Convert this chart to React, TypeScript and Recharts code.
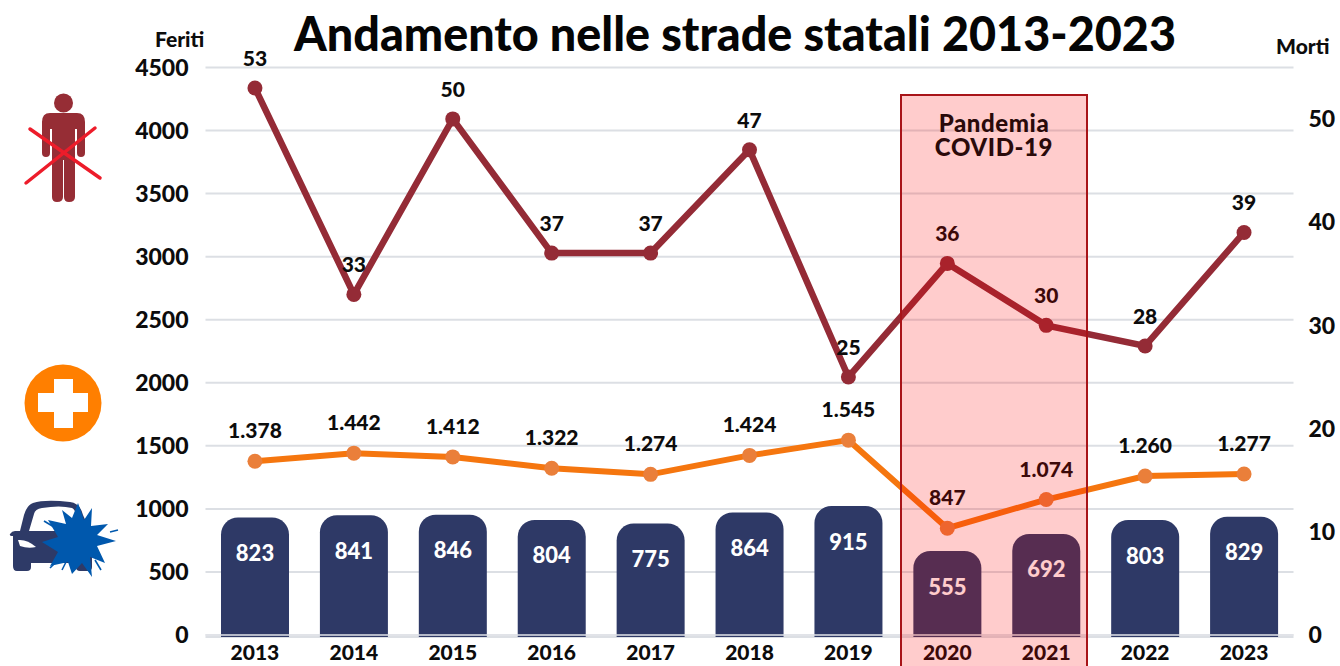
import React from "react";
import { ComposedChart, Bar, Line, XAxis, YAxis, CartesianGrid, LabelList, ReferenceLine } from "recharts";

const years = ["2013","2014","2015","2016","2017","2018","2019","2020","2021","2022","2023"];
const incidenti = [823,841,846,804,775,864,915,555,692,803,829];
const feriti = [1378,1442,1412,1322,1274,1424,1545,847,1074,1260,1277];
const morti = [53,33,50,37,37,47,25,36,30,28,39];
const feritiTicks = [0,500,1000,1500,2000,2500,3000,3500,4000,4500];
const mortiTicks = [0,10,20,30,40,50];
// the reference's bars do not start at zero on their own scale
const barFloor = -133;

const data = years.map((year, i) => ({
  year,
  incidenti: incidenti[i],
  range: [barFloor, incidenti[i]],
  feriti: feriti[i],
  morti: morti[i],
}));

const FONT = "Lato, sans-serif";
const fmt = (v: any) => String(v).replace(/\B(?=(\d{3})+$)/g, ".");

const tickStyle = { fontFamily: FONT, fontWeight: 900, fontSize: 23, fill: "#0c0c0c" };

const star = "78,503 84,520 92,508 91,526 108,524 97,535 116,541 97,546 105,563 90,557 92,577 82,563 72,574 68,562 50,566 58,552 42,542 58,537 48,520 66,524 62,510 72,518";

function Icons() {
  return (
    <svg width={1340} height={666} style={{ position: "absolute", left: 0, top: 0, pointerEvents: "none" }}>
      <g fill="#962d35">
        <circle cx={63.5} cy={103} r={9.5} />
        <path d="M50 113H77Q85 113 85 122V153Q85 157 81 157Q77 157 77 153V129H75V197Q75 202 69 202Q64 202 64 197V160H63V197Q63 202 57 202Q52 202 52 197V129H50V153Q50 157 46 157Q42 157 42 153V122Q42 113 50 113Z" />
      </g>
      <g stroke="#ed1c2a" strokeWidth={3.5} strokeLinecap="round">
        <path d="M26 183L95 128" />
        <path d="M30 129L100 178" />
      </g>
      <circle cx={63} cy={403} r={38.5} fill="#ff7f00" />
      <path d="M54 379H73V393H88V412H73V428H54V412H38V393H54Z" fill="#fff" />
      <g fill="#2e3a67">
        <path d="M15 531Q12 531 10 534Q9 536 13 536V566Q13 571 17 571H27Q31 571 31 567V563H76V567Q76 571 80 571H88Q92 571 92 567V535L83 515Q80 503 70 502Q45 499 33 503Q27 505 24 515L20 531Z" />
      </g>
      <path d="M29 531L34 514Q35 509 42 508Q60 505 72 508Q77 510 80 531Z" fill="#fff" />
      <path d="M18 540Q27 539 36 547Q28 549 20 546Z" fill="#fff" />
      <polygon points={star} fill="#0058ad" />
      <g stroke="#0058ad" strokeWidth={1.6}>
        <path d="M44 521L54 527" /><path d="M110 532L118 530" /><path d="M50 568L58 560" />
        <path d="M62 570L66 562" /><path d="M101 570L95 560" />
      </g>
    </svg>
  );
}

export default function App() {
  return (
    <div style={{ position: "absolute", left: 0, top: 0, width: 1340, height: 666, background: "#fff", overflow: "hidden" }}>
      <ComposedChart
        width={1340}
        height={666}
        data={data}
        margin={{ top: 67.5, right: 0, bottom: 0, left: 0 }}
        barCategoryGap={15.5}
      >
        <CartesianGrid yAxisId="feriti" horizontal vertical={false} stroke="#dcdfe4" strokeWidth={2} />
        <XAxis dataKey="year" height={29} axisLine={false} tickLine={false} interval={0} tick={{ ...tickStyle, fontSize: 21 }} tickMargin={2} />
        <YAxis yAxisId="bars" hide width={0} domain={[barFloor, 4423]} />
        <YAxis yAxisId="feriti" orientation="left" width={205.5} domain={[-16, 4500]} ticks={feritiTicks} axisLine={false} tickLine={false} tick={tickStyle} tickMargin={11} />
        <YAxis yAxisId="morti" orientation="right" width={46.5} domain={[-0.19, 54.98]} ticks={mortiTicks} axisLine={false} tickLine={false} tick={tickStyle} tickMargin={9} />
        <Bar yAxisId="bars" dataKey="range" fill="#2e3966" radius={[17, 17, 0, 0]} isAnimationActive={false}>
          <LabelList dataKey="incidenti" position="insideTop" offset={28} style={{ fontFamily: FONT, fontWeight: 900, fontSize: 22, fill: "#fff" }} />
        </Bar>
        <ReferenceLine yAxisId="feriti" y={0} stroke="#e3e5ea" strokeWidth={1.5} />
        <Line yAxisId="feriti" dataKey="feriti" stroke="#f5760f" strokeWidth={6} dot={{ r: 7.5, fill: "#ea7f3a", stroke: "none" }} isAnimationActive={false}>
          <LabelList dataKey="feriti" position="top" offset={23} formatter={fmt} style={{ fontFamily: FONT, fontWeight: 900, fontSize: 21, fill: "#0c0c0c" }} />
        </Line>
        <Line yAxisId="morti" dataKey="morti" stroke="#942b36" strokeWidth={6.5} dot={{ r: 7.5, fill: "#942b36", stroke: "none" }} isAnimationActive={false}>
          <LabelList dataKey="morti" position="top" offset={22} style={{ fontFamily: FONT, fontWeight: 900, fontSize: 21, fill: "#0c0c0c" }} />
        </Line>
      </ComposedChart>
      <Icons />
      <div style={{ position: "absolute", left: 900, top: 94, width: 184, height: 580, border: "2.5px solid #a81419", background: "rgba(255,0,0,0.2)", textAlign: "center", fontFamily: FONT, fontWeight: 900, fontSize: 24, letterSpacing: 0.6, lineHeight: "24px", color: "#2a0a0a" }}>
        <div style={{ marginTop: 15 }}>Pandemia<br />COVID-19</div>
      </div>
      <div style={{ position: "absolute", left: 235, width: 1000, top: 8, textAlign: "center", fontFamily: FONT, fontWeight: 900, fontSize: 46.7, lineHeight: "50px", color: "#050505", whiteSpace: "nowrap" }}>Andamento nelle strade statali 2013-2023</div>
      <div style={{ position: "absolute", left: 155, top: 28, fontFamily: FONT, fontWeight: 900, fontSize: 21, lineHeight: "22px", color: "#0c0c0c" }}>Feriti</div>
      <div style={{ position: "absolute", left: 1276, top: 35, fontFamily: FONT, fontWeight: 900, fontSize: 21, lineHeight: "22px", color: "#0c0c0c" }}>Morti</div>
    </div>
  );
}
